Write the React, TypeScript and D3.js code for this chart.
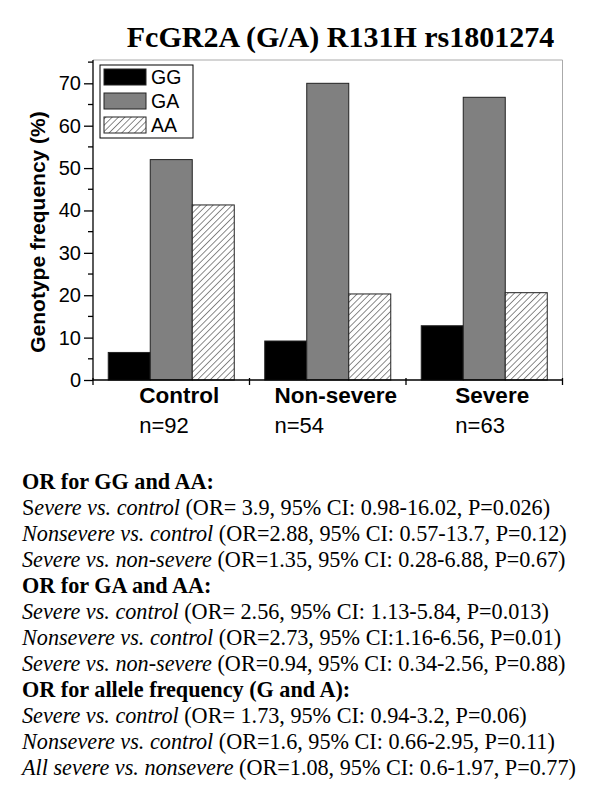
import React, { useEffect, useRef } from "react";
import * as d3 from "d3";

// genotype frequencies (%) per patient group
const categories = ["Control", "Non-severe", "Severe"];
const sampleSizes = ["n=92", "n=54", "n=63"];
const genotypes = ["GG", "GA", "AA"];
const ggValues = [6.5, 9.2, 12.8];
const gaValues = [52.0, 70.0, 66.7];
const aaValues = [41.3, 20.3, 20.6];
const yTicks = [0, 10, 20, 30, 40, 50, 60, 70];

const titleText = "FcGR2A (G/A) R131H rs1801274";
const yTitle = "Genotype frequency (%)";

// notes below the chart: [upright, italic, upright] pieces, bold for headings
const headings = [
  "OR for GG and AA:",
  "OR for GA and AA:",
  "OR for allele frequency (G and A):",
];
const comparisons = [
  ["S", "evere vs. control", " (OR= 3.9, 95% CI: 0.98-16.02, P=0.026)"],
  ["", "Nonsevere vs. control", " (OR=2.88, 95% CI: 0.57-13.7, P=0.12)"],
  ["", "Severe vs. non-severe", " (OR=1.35, 95% CI: 0.28-6.88, P=0.67)"],
  ["", "Severe vs. control", " (OR= 2.56, 95% CI: 1.13-5.84, P=0.013)"],
  ["", "Nonsevere vs. control", " (OR=2.73, 95% CI:1.16-6.56, P=0.01)"],
  ["", "Severe vs. non-severe", " (OR=0.94, 95% CI: 0.34-2.56, P=0.88)"],
  ["", "Severe vs. control", " (OR= 1.73, 95% CI: 0.94-3.2, P=0.06)"],
  ["", "Nonsevere vs. control", " (OR=1.6, 95% CI: 0.66-2.95, P=0.11)"],
  ["", "All severe vs. nonsevere", " (OR=1.08, 95% CI: 0.6-1.97, P=0.77)"],
];

const fills: Record<string, string> = { GG: "#000", GA: "#808080", AA: "url(#hatch)" };

export default function App() {
  const svgRef = useRef<SVGSVGElement>(null);

  useEffect(() => {
    const svg = d3.select(svgRef.current);
    svg.selectAll("*").remove();

    const sans = "'Liberation Sans', Arial, sans-serif";
    const serif = "'Liberation Serif', 'Times New Roman', serif";

    const left = 93, right = 562.5, top = 60, bottom = 380;

    // hatch pattern for AA
    const pat = svg
      .append("defs")
      .append("pattern")
      .attr("id", "hatch")
      .attr("patternUnits", "userSpaceOnUse")
      .attr("width", 4.5)
      .attr("height", 4.5)
      .attr("patternTransform", "rotate(45)");
    pat.append("rect").attr("width", 4.5).attr("height", 4.5).attr("fill", "#fff");
    pat.append("line").attr("x1", 0).attr("y1", 0).attr("x2", 0).attr("y2", 4.5)
      .attr("stroke", "#000").attr("stroke-width", 0.9);

    const y = d3.scaleLinear().domain([0, 75.5]).range([bottom, top]);
    const x0 = d3.scaleBand().domain(categories).range([left, right]).padding(0);
    const x1 = d3.scaleBand().domain(genotypes).range([0, x0.bandwidth()])
      .paddingInner(0).paddingOuter(0.363);

    const rows = categories.map((c, i) => ({
      cat: c,
      vals: [
        { key: "GG", value: ggValues[i] },
        { key: "GA", value: gaValues[i] },
        { key: "AA", value: aaValues[i] },
      ],
    }));

    // frame (top/right light gray)
    svg.append("path")
      .attr("d", `M${left},${top}H${right}V${bottom}`)
      .attr("fill", "none").attr("stroke", "#aaa").attr("stroke-width", 1);

    // bars
    svg.append("g").selectAll("g").data(rows).enter().append("g")
      .attr("transform", (d) => `translate(${x0(d.cat)},0)`)
      .selectAll("rect").data((d) => d.vals).enter().append("rect")
      .attr("x", (d) => x1(d.key)!)
      .attr("y", (d) => y(d.value))
      .attr("width", x1.bandwidth())
      .attr("height", (d) => bottom - y(d.value))
      .attr("fill", (d) => fills[d.key])
      .attr("stroke", "#222").attr("stroke-width", 1);

    // y axis
    const yAxis = svg.append("g").attr("transform", `translate(${left},0)`);
    yAxis.call(
      d3.axisLeft(y).tickValues(yTicks).tickSize(9).tickPadding(3).tickFormat(d3.format("d"))
    );
    yAxis.selectAll(".domain").remove();
    yAxis.append("line").attr("y1", top).attr("y2", bottom).attr("stroke", "#000").attr("stroke-width", 1.3);
    yAxis.selectAll(".tick line").attr("stroke-width", 1.3);
    yAxis.selectAll(".tick text").attr("font-family", sans).attr("font-size", 20).attr("fill", "#000");
    yAxis.selectAll(".minor").data(d3.range(5, 76, 10)).enter().append("line")
      .attr("x1", -5).attr("x2", 0)
      .attr("y1", (d) => y(d)).attr("y2", (d) => y(d))
      .attr("stroke", "#000").attr("stroke-width", 1.3);

    // x axis
    const xAxis = svg.append("g").attr("transform", `translate(0,${bottom})`);
    xAxis.append("line").attr("x1", left).attr("x2", right).attr("stroke", "#000").attr("stroke-width", 1.3);
    const bounds = categories.map((c) => x0(c)!).concat([right]);
    xAxis.selectAll(".tk").data(bounds).enter().append("line")
      .attr("x1", (d) => d).attr("x2", (d) => d).attr("y1", -2).attr("y2", 5)
      .attr("stroke", "#000").attr("stroke-width", 1.3);

    // category + sample size labels
    categories.forEach((c, i) => {
      const cx = x0(c)! + x0.bandwidth() / 2 + 8;
      const t = svg.append("text").attr("x", cx).attr("y", 403)
        .attr("text-anchor", "middle").attr("font-family", sans)
        .attr("font-weight", "bold").attr("font-size", 22.5).text(c);
      const bb = (t.node() as SVGTextElement).getBBox();
      svg.append("text").attr("x", bb.x).attr("y", 433)
        .attr("font-family", sans).attr("font-size", 22).text(sampleSizes[i]);
    });

    // y title
    svg.append("text")
      .attr("transform", "translate(45,232) rotate(-90)")
      .attr("text-anchor", "middle").attr("font-family", sans)
      .attr("font-weight", "bold").attr("font-size", 21).text(yTitle);

    // title
    svg.append("text").attr("x", 340.5).attr("y", 47)
      .attr("text-anchor", "middle").attr("font-family", serif)
      .attr("font-weight", "bold").attr("font-size", 30).text(titleText);

    // legend
    const lg = svg.append("g").attr("transform", "translate(100,65)");
    lg.append("rect").attr("width", 93).attr("height", 73)
      .attr("fill", "#fff").attr("stroke", "#000").attr("stroke-width", 1);
    genotypes.forEach((g, i) => {
      lg.append("rect").attr("x", 4).attr("y", 4 + i * 24).attr("width", 42).attr("height", 16)
        .attr("fill", fills[g]).attr("stroke", "#222").attr("stroke-width", 1);
      lg.append("text").attr("x", 51).attr("y", 19 + i * 24)
        .attr("font-family", sans).attr("font-size", 19.5).text(g);
    });

    // notes
    const lineH = 26;
    let row = 0;
    const notes = svg.append("g").attr("font-family", serif).attr("font-size", 22.2);
    headings.forEach((h, hi) => {
      notes.append("text").attr("x", 22).attr("y", 489 + row * lineH)
        .attr("font-weight", "bold").text(h);
      row++;
      comparisons.slice(hi * 3, hi * 3 + 3).forEach((parts) => {
        const t = notes.append("text").attr("x", 22).attr("y", 489 + row * lineH);
        t.append("tspan").text(parts[0]);
        t.append("tspan").attr("font-style", "italic").text(parts[1]);
        t.append("tspan").text(parts[2]);
        row++;
      });
    });
  }, []);

  return (
    <svg
      ref={svgRef}
      width={600}
      height={809}
      style={{ position: "absolute", left: 0, top: 0, background: "#fff" }}
    />
  );
}
